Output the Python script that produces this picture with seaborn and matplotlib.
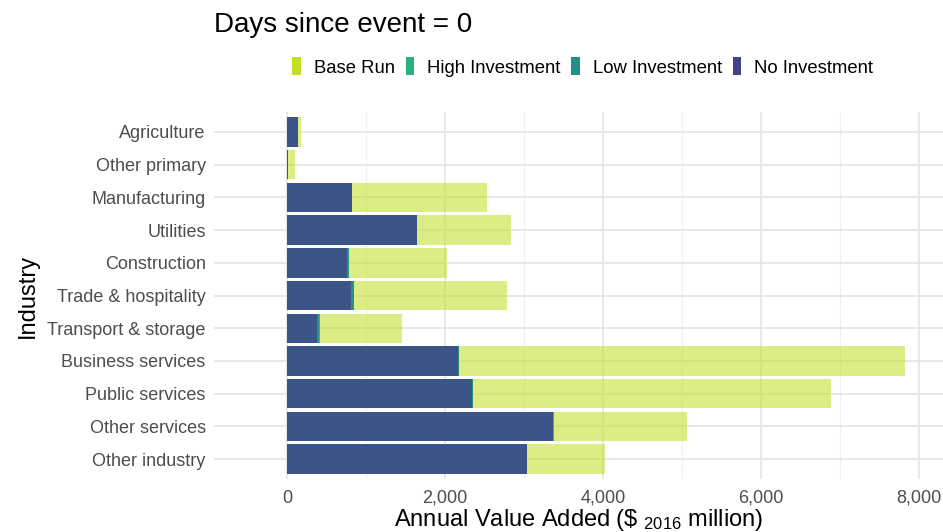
import numpy as np
import pandas as pd
import matplotlib
matplotlib.use("Agg")
import matplotlib.pyplot as plt
from matplotlib.patches import Patch
from matplotlib.ticker import MultipleLocator, FuncFormatter
import seaborn as sns

# data
industries = ["Agriculture", "Other primary", "Manufacturing", "Utilities",
              "Construction", "Trade & hospitality", "Transport & storage",
              "Business services", "Public services", "Other services",
              "Other industry"]
base_run = [179, 103, 2530, 2833, 2021, 2782, 1449, 7817, 6883, 5066, 4019]
high_inv = [140, 12, 826, 1646, 785, 843, 410, 2180, 2353, 3375, 3040]
low_inv = [138, 11, 824, 1645, 780, 840, 405, 2175, 2350, 3370, 3038]
no_inv = [136, 10, 822, 1643, 760, 814, 381, 2168, 2341, 3363, 3035]

scenarios = ["Base Run", "High Investment", "Low Investment", "No Investment"]
legend_colors = ["#C2DF23", "#2DB27D", "#21908C", "#414487"]
# bars are drawn semi transparent, so they look a bit different from the keys
bar_colors = ["#C2DF23", "#2DB27D", "#21908C", "#3B5587"]
bar_alpha = [0.55, 0.9, 0.9, 1.0]


def main():
    sns.set_theme(style="whitegrid")
    plt.rcParams["font.family"] = ["Liberation Sans", "DejaVu Sans"]
    plt.rcParams["mathtext.default"] = "regular"

    fig = plt.figure(figsize=(9.43, 5.32), dpi=100)
    ax = fig.add_axes([0.227, 0.100, 0.773, 0.689])

    # overlapping bars, largest scenario first
    series = [base_run, high_inv, low_inv, no_inv]
    for vals, col, a in zip(series, bar_colors, bar_alpha):
        df = pd.DataFrame({"Industry": industries, "value": vals})
        sns.barplot(data=df, x="value", y="Industry", order=industries,
                    color=col, alpha=a, width=0.9, orient="h",
                    saturation=1, linewidth=0, ax=ax, zorder=2)

    ax.set_xlim(-925, 8300)
    ax.set_ylim(len(industries) - 0.4, -0.6)
    ax.xaxis.set_major_locator(MultipleLocator(2000))
    ax.xaxis.set_minor_locator(MultipleLocator(1000))
    ax.xaxis.set_major_formatter(FuncFormatter(lambda v, p: f"{int(v):,}"))

    ax.set_facecolor("white")
    for s in ax.spines.values():
        s.set_visible(False)
    ax.grid(which="major", axis="both", color="#E6E6E6", linewidth=1.3, zorder=0)
    ax.grid(which="minor", axis="x", color="#F0F0F0", linewidth=0.8, zorder=0)
    ax.set_axisbelow(True)
    ax.tick_params(axis="both", which="both", length=0, labelsize=13,
                   labelcolor="#4D4D4D")
    ax.tick_params(axis="x", pad=8)
    ax.tick_params(axis="y", pad=6)

    ax.set_xlabel("Annual Value Added (\\$ $_{2016}$ million)", fontsize=17,
                  color="black", labelpad=0)
    ax.set_ylabel("Industry", fontsize=17, color="black", labelpad=6)

    fig.text(0.227, 1 - 25 / 532, "Days since event = 0", fontsize=20,
             color="black", ha="left", va="center")

    handles = [Patch(facecolor=c, edgecolor="none") for c in legend_colors]
    fig.legend(handles, scenarios, loc="center", ncol=4,
               bbox_to_anchor=(0.618, 1 - 67 / 532), frameon=False,
               fontsize=13.3, handlelength=0.45, handleheight=1.1,
               handletextpad=0.7, columnspacing=0.6, labelcolor="black")

    fig.savefig("out.png", dpi=100)


if __name__ == "__main__":
    main()
